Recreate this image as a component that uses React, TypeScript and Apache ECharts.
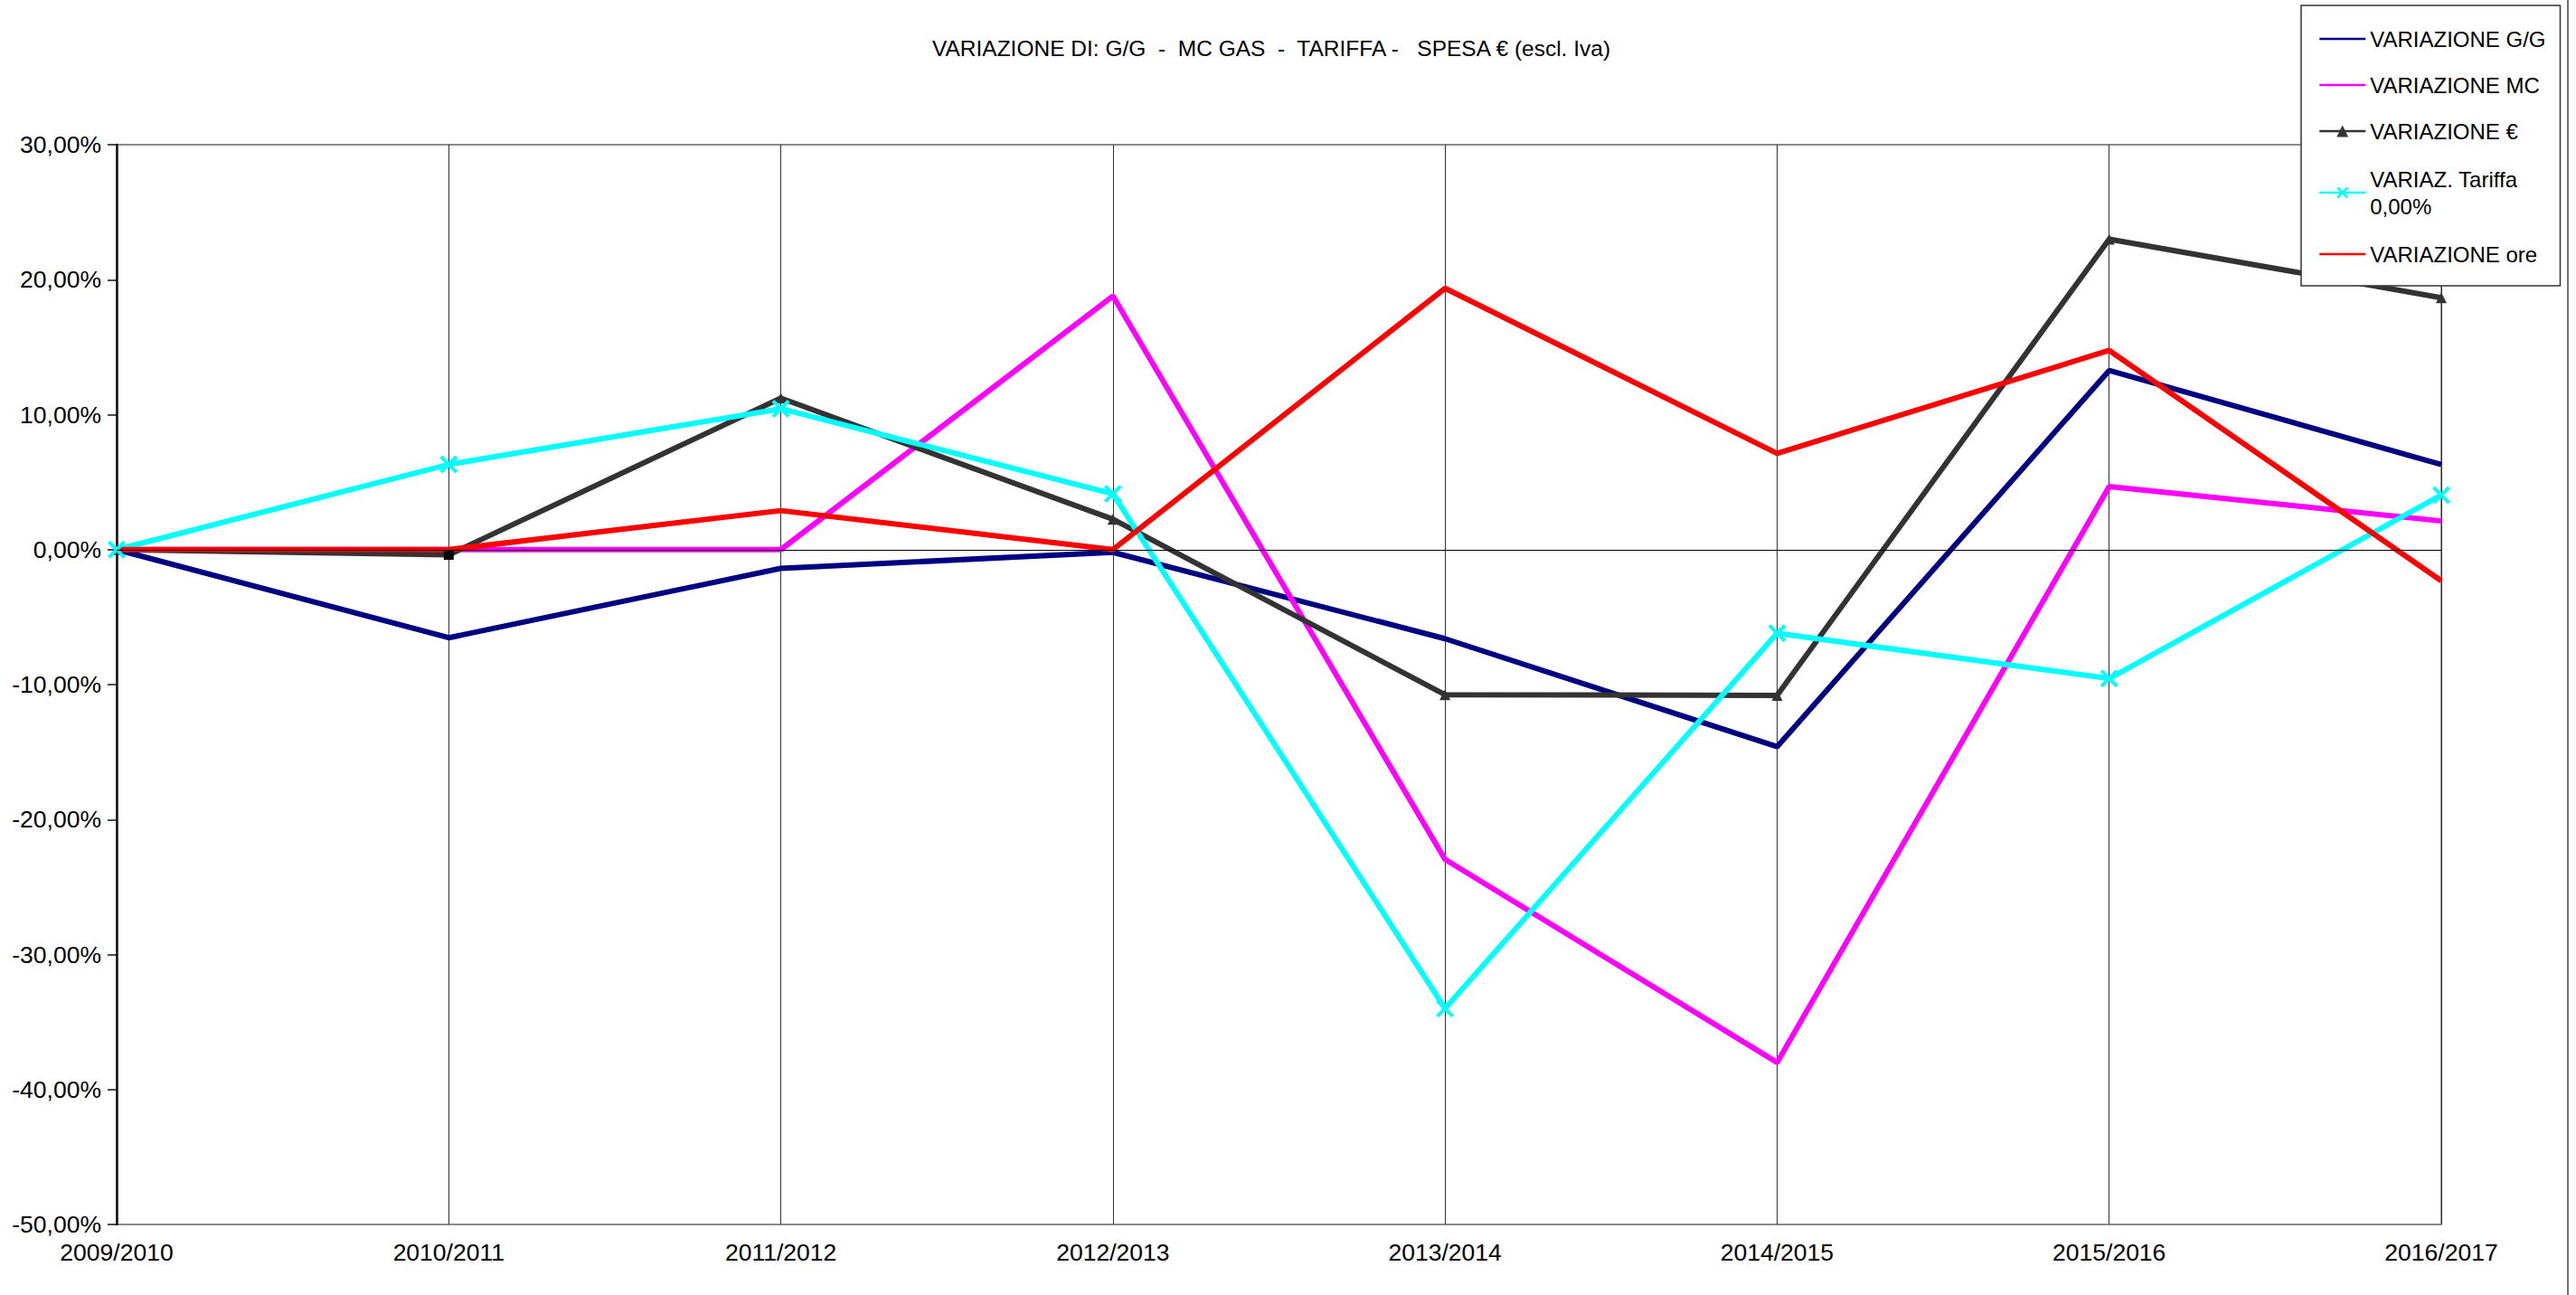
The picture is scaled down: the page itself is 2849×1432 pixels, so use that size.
import React, { useEffect, useRef } from "react";
import * as echarts from "echarts";

const categories = ["2009/2010", "2010/2011", "2011/2012", "2012/2013", "2013/2014", "2014/2015", "2015/2016", "2016/2017"];
const titleText = "VARIAZIONE DI: G/G  -  MC GAS  -  TARIFFA -   SPESA € (escl. Iva)";
const seriesNames = ["VARIAZIONE G/G", "VARIAZIONE MC", "VARIAZIONE €", "VARIAZ. Tariffa 0,00%", "VARIAZIONE ore"];
const varGG = [0, -6.53, -1.39, -0.2, -6.6, -14.6, 13.27, 6.3];
const varMC = [0, 0, 0, 18.79, -22.95, -38.0, 4.68, 2.12];
const varEUR = [0, -0.39, 11.22, 2.25, -10.75, -10.8, 23.0, 18.66];
const varTariffa = [0, 6.31, 10.44, 4.13, -34.0, -6.2, -9.55, 4.04];
const varOre = [0, 0, 2.89, 0, 19.36, 7.13, 14.76, -2.31];
const yMin = -50;
const yMax = 30;
const yStep = 10;

const FONT = "Liberation Sans, Arial, sans-serif";
const crossSymbol = "path://M0,1.4L1.4,0L10,8.6L8.6,10Z M8.6,0L10,1.4L1.4,10L0,8.6Z";
const hiddenIcon = { opacity: 0, color: "rgba(0,0,0,0)", borderWidth: 0 };

export default function App() {
  const ref = useRef<HTMLDivElement>(null);
  useEffect(() => {
    if (!ref.current) return;
    const chart = echarts.init(ref.current, null, { renderer: "svg" });
    const fmt = (v: number) => v.toFixed(2).replace(".", ",") + "%";
    chart.setOption({
      animation: false,
      backgroundColor: "#ffffff",
      textStyle: { fontFamily: FONT },
      title: {
        text: titleText,
        left: 1401,
        textAlign: "center",
        top: 36,
        textStyle: { fontSize: 24.5, fontWeight: "normal", color: "#000", fontFamily: FONT },
      },
      legend: {
        orient: "vertical",
        left: 2545,
        top: 6,
        padding: [22, 16, 20, 19],
        backgroundColor: "#ffffff",
        borderColor: "#333",
        borderWidth: 1.5,
        itemWidth: 51,
        itemHeight: 16,
        itemGap: 21,
        lineStyle: { width: 2.5 },
        textStyle: { fontSize: 24, lineHeight: 30, color: "#000", fontFamily: FONT },
        formatter: (name: string) => (name === seriesNames[3] ? "VARIAZ. Tariffa\n0,00%" : name),
        data: [
          { name: seriesNames[0], itemStyle: hiddenIcon },
          { name: seriesNames[1], itemStyle: hiddenIcon },
          { name: seriesNames[2] },
          { name: seriesNames[3], textStyle: { padding: [4, 0, 0, 0] } },
          { name: seriesNames[4], itemStyle: hiddenIcon },
        ],
      },
      grid: {
        left: 129,
        right: 149,
        top: 160,
        bottom: 78,
        show: true,
        borderColor: "#8a8a8a",
        borderWidth: 2,
        backgroundColor: "transparent",
      },
      xAxis: {
        type: "category",
        data: categories,
        boundaryGap: false,
        axisLine: { show: false },
        axisTick: { show: false },
        axisLabel: { fontSize: 26.5, color: "#000", margin: 17, fontFamily: FONT, interval: 0 },
        splitLine: { show: true, lineStyle: { color: "#333", width: 1 } },
      },
      yAxis: {
        type: "value",
        min: yMin,
        max: yMax,
        interval: yStep,
        axisLine: { show: true, lineStyle: { color: "#111", width: 2.5 } },
        axisTick: { show: true, length: 10, lineStyle: { color: "#111", width: 1.5 } },
        axisLabel: { fontSize: 26.5, color: "#000", margin: 17, fontFamily: FONT, formatter: fmt },
        splitLine: { show: false },
      },
      graphic: [
        {
          type: "line",
          shape: { x1: 2840, y1: 0, x2: 2840, y2: 1432 },
          style: { stroke: "#444", lineWidth: 1.5 },
        },
      ],
      series: [
        {
          name: seriesNames[0],
          type: "line",
          data: varGG,
          symbol: "none",
          lineStyle: { color: "#000080", width: 6 },
          itemStyle: { color: "#000080" },
          markLine: {
            silent: true,
            symbol: ["none", "none"],
            label: { show: false },
            lineStyle: { color: "#000", width: 1.2, type: "solid" },
            data: [{ yAxis: 0 }],
          },
        },
        {
          name: seriesNames[1],
          type: "line",
          data: varMC,
          symbol: "none",
          lineStyle: { color: "#FF00FF", width: 6 },
          itemStyle: { color: "#FF00FF" },
        },
        {
          name: seriesNames[2],
          type: "line",
          data: varEUR.map((v, i) =>
            i === 1 ? { value: v, symbol: "rect", symbolSize: 11, itemStyle: { color: "#000" } } : v
          ),
          symbol: "triangle",
          symbolSize: 12,
          showAllSymbol: true,
          lineStyle: { color: "#333333", width: 6 },
          itemStyle: { color: "#333333" },
        },
        {
          name: seriesNames[3],
          type: "line",
          data: varTariffa,
          symbol: crossSymbol,
          symbolSize: 20,
          showAllSymbol: true,
          lineStyle: { color: "#00FFFF", width: 6 },
          itemStyle: { color: "#00FFFF" },
        },
        {
          name: seriesNames[4],
          type: "line",
          data: varOre,
          symbol: "none",
          lineStyle: { color: "#FF0000", width: 6 },
          itemStyle: { color: "#FF0000" },
        },
      ],
    });
    return () => chart.dispose();
  }, []);
  return (
    <div
      ref={ref}
      style={{ position: "absolute", left: 0, top: 0, width: 2849, height: 1432, background: "#fff" }}
    />
  );
}
